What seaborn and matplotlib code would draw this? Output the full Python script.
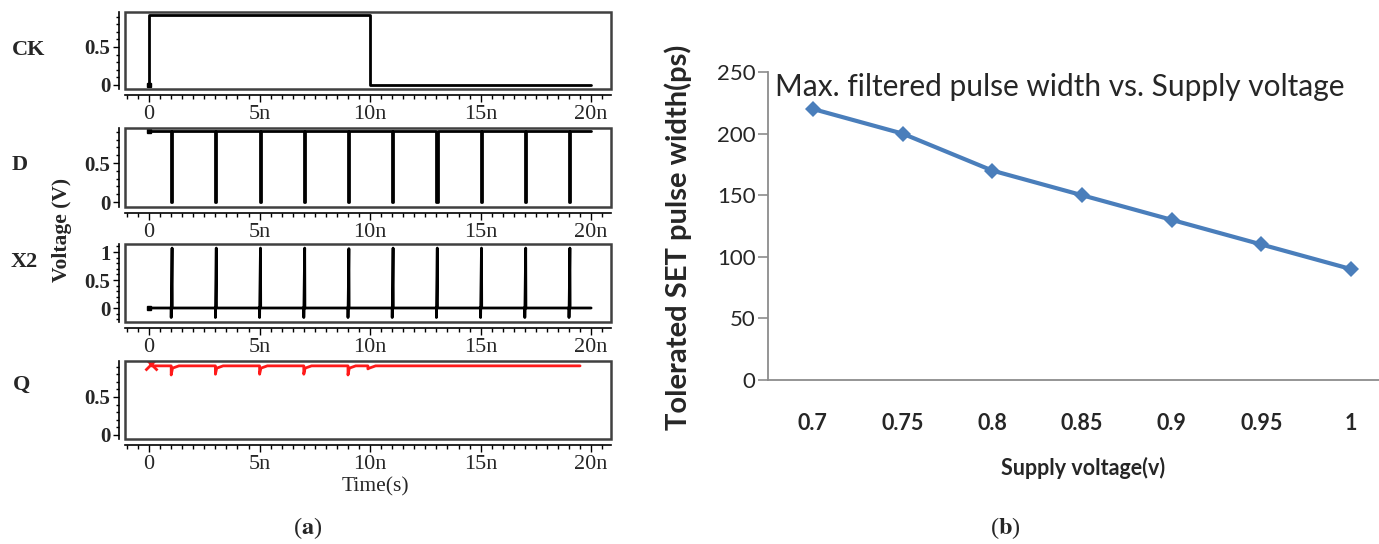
import seaborn as sns
import matplotlib.pyplot as plt
import matplotlib.ticker as mticker
from matplotlib.patches import Rectangle
import pandas as pd

sns.set_theme(style="white")
plt.rcParams['font.family'] = ['Liberation Serif', 'DejaVu Serif']
plt.rcParams['mathtext.fontset'] = 'stix'

# ---------------- (a) transient waveforms (time in ns, voltage in V) ----------------
ck_t = [0, 0, 10, 10, 20]
ck_v = [0, 0.92, 0.92, 0, 0]

d_high = 0.91
d_pulse_t = [1, 3, 5, 7, 9, 11, 13, 15, 17, 19]

x2_spike_t = [1, 3, 5, 7, 9, 11, 13, 15, 17, 19]
x2_peak = [1.07, 1.07, 1.07, 1.07, 1.06, 1.07, 1.07, 1.07, 1.07, 1.07]
x2_dip = [-0.17, -0.17, -0.17, -0.17, -0.17, -0.17, -0.17, -0.17, -0.17, -0.17]

q_high = 0.91
q_dip_t = [1, 3, 5, 7, 9, 9.9]
q_dip_v = [0.79, 0.80, 0.80, 0.80, 0.79, 0.87]
q_end = 19.5

time_ticks = [0, 5, 10, 15, 20]
time_labels = ['0', '5n', '10n', '15n', '20n']

# ---------------- (b) pulse width vs supply voltage ----------------
vdd = ['0.7', '0.75', '0.8', '0.85', '0.9', '0.95', '1']
pulse_width = [220, 200, 170, 150, 130, 110, 90]


def d_wave():
    t, v = [0], [d_high]
    for p in d_pulse_t:
        t += [p, p, p + 0.05, p + 0.05]
        v += [d_high, 0, 0, d_high]
    t.append(20)
    v.append(d_high)
    return pd.DataFrame({'t': t, 'v': v})


def x2_wave():
    t, v = [0], [0]
    for p, hi, lo in zip(x2_spike_t, x2_peak, x2_dip):
        t += [p, p, p + 0.04, p + 0.05]
        v += [0, lo, hi, 0]
    t.append(20)
    v.append(0)
    return pd.DataFrame({'t': t, 'v': v})


def q_wave():
    t, v = [0.1], [q_high]
    for p, lo in zip(q_dip_t, q_dip_v):
        t += [p, p, p + 0.06, p + 0.35]
        v += [q_high, lo, q_high - 0.03, q_high]
    t.append(q_end)
    v.append(q_high)
    return pd.DataFrame({'t': t, 'v': v})


W, H = 1379, 544
fig = plt.figure(figsize=(W / 100, H / 100), dpi=100)


def px_axes(x0, y0, x1, y1):
    return fig.add_axes([x0 / W, 1 - y1 / H, (x1 - x0) / W, (y1 - y0) / H])


def setup_wave_ax(ax, ylim, yticks, ylabels):
    ax.set_xlim(-1.09, 20.9)
    ax.set_ylim(*ylim)
    ax.spines['top'].set_visible(False)
    ax.spines['right'].set_visible(False)
    for side in ['left', 'bottom']:
        ax.spines[side].set_position(('outward', 4.5))
        ax.spines[side].set_color('black')
        ax.spines[side].set_linewidth(1.2)
    ax.add_patch(Rectangle((0, 0), 1, 1, transform=ax.transAxes, fill=False,
                           ec='#404040', lw=1.8, clip_on=False, zorder=5))
    ax.set_xticks(time_ticks)
    ax.set_xticklabels(time_labels)
    ax.xaxis.set_minor_locator(mticker.MultipleLocator(0.5))
    ax.set_yticks(yticks)
    ax.set_yticklabels(ylabels)
    ax.yaxis.set_minor_locator(mticker.MultipleLocator(0.1))
    ax.tick_params(axis='both', which='both', direction='out', bottom=True, left=True,
                   color='black', width=1)
    ax.tick_params(axis='x', which='major', length=5, pad=2, labelsize=16)
    ax.tick_params(axis='x', which='minor', length=3)
    ax.tick_params(axis='y', which='major', length=4, pad=2, labelsize=15)
    ax.tick_params(axis='y', which='minor', length=2)
    for lab in ax.get_yticklabels():
        lab.set_fontweight('bold')
    ax.set_xlabel('')
    ax.set_ylabel('')
    ax.grid(False)


# CK
ax_ck = px_axes(125, 12, 611, 89)
sns.lineplot(x=ck_t, y=ck_v, ax=ax_ck, color='black', linewidth=2,
             sort=False, estimator=None)
ax_ck.plot([0], [0], 's', color='black', ms=3)
setup_wave_ax(ax_ck, (-0.053, 0.96), [0, 0.5], ['0', '0.5'])

# D
ax_d = px_axes(125, 128, 611, 207)
sns.lineplot(data=d_wave(), x='t', y='v', ax=ax_d, color='black', linewidth=2,
             sort=False, estimator=None)
ax_d.plot([0], [d_high], 's', color='black', ms=3)
setup_wave_ax(ax_d, (-0.064, 0.95), [0, 0.5], ['0', '0.5'])

# X2
ax_x2 = px_axes(125, 244, 611, 322)
sns.lineplot(data=x2_wave(), x='t', y='v', ax=ax_x2, color='black', linewidth=2,
             sort=False, estimator=None)
ax_x2.plot([0], [0], 's', color='black', ms=3)
setup_wave_ax(ax_x2, (-0.25, 1.143), [0, 0.5, 1], ['0', '0.5', '1'])

# Q
ax_q = px_axes(125, 361, 611, 439)
sns.lineplot(data=q_wave(), x='t', y='v', ax=ax_q, color='#ff1a1a', linewidth=2,
             sort=False, estimator=None)
ax_q.plot([0.1], [0.93], 'x', color='#ff1a1a', ms=9, mew=2)
setup_wave_ax(ax_q, (-0.053, 0.974), [0, 0.5], ['0', '0.5'])

# signal names and axis texts
for name, x, y in [('CK', 29, 50), ('D', 20, 165), ('X2', 24, 262), ('Q', 22, 385)]:
    fig.text(x / W, 1 - y / H, name, ha='center', va='center',
             fontsize=16, fontweight='bold')
fig.text(62 / W, 1 - 230 / H, 'Voltage (V)', rotation=90, ha='center', va='center',
         fontsize=15.5, fontweight='bold')
fig.text(375 / W, 1 - 487 / H, 'Time(s)', ha='center', va='center', fontsize=15.5)

# ---------------- (b) ----------------
ax_b = px_axes(768, 72, 1396, 380)
df_b = pd.DataFrame({'vdd': vdd, 'width': pulse_width})
sns.lineplot(data=df_b, x='vdd', y='width', ax=ax_b, color='#4a7ebb', linewidth=3,
             marker='D', markersize=8.5, markeredgewidth=0, sort=False, estimator=None)
ax_b.set_xlim(-0.5, 6.5)
ax_b.set_ylim(0, 250)
ax_b.set_yticks([0, 50, 100, 150, 200, 250])
ax_b.spines['top'].set_visible(False)
ax_b.spines['right'].set_visible(False)
for side in ['left', 'bottom']:
    ax_b.spines[side].set_color('#8c8c8c')
    ax_b.spines[side].set_linewidth(1.3)
ax_b.tick_params(axis='y', left=True, direction='out', length=7, width=1.2,
                 color='#8c8c8c', pad=2, labelsize=16)
ax_b.tick_params(axis='x', bottom=False, pad=18, labelsize=15.5)
for lab in ax_b.get_yticklabels():
    lab.set_fontfamily('Lato')
for lab in ax_b.get_xticklabels():
    lab.set_fontfamily('Lato')
    lab.set_fontweight('bold')
ax_b.set_xlabel('')
ax_b.set_ylabel('')
ax_b.grid(False)

fig.text(775 / W, 1 - 87 / H, 'Max. filtered pulse width vs. Supply voltage',
         ha='left', va='center', fontsize=21.5, fontfamily='Lato')
fig.text(678 / W, 1 - 237 / H, 'Tolerated SET pulse width(ps)', rotation=90,
         ha='center', va='center', fontsize=21, fontfamily='Lato', fontweight='bold')
fig.text(1083 / W, 1 - 468 / H, 'Supply voltage(v)', ha='center', va='center',
         fontsize=15.5, fontfamily='Lato', fontweight='bold')

# panel letters
fig.text(308 / W, 1 - 528 / H, r'($\mathbf{a}$)', ha='center', va='center', fontsize=17.5)
fig.text(1005 / W, 1 - 528 / H, r'($\mathbf{b}$)', ha='center', va='center', fontsize=17.5)

fig.savefig('out.png', dpi=100)
